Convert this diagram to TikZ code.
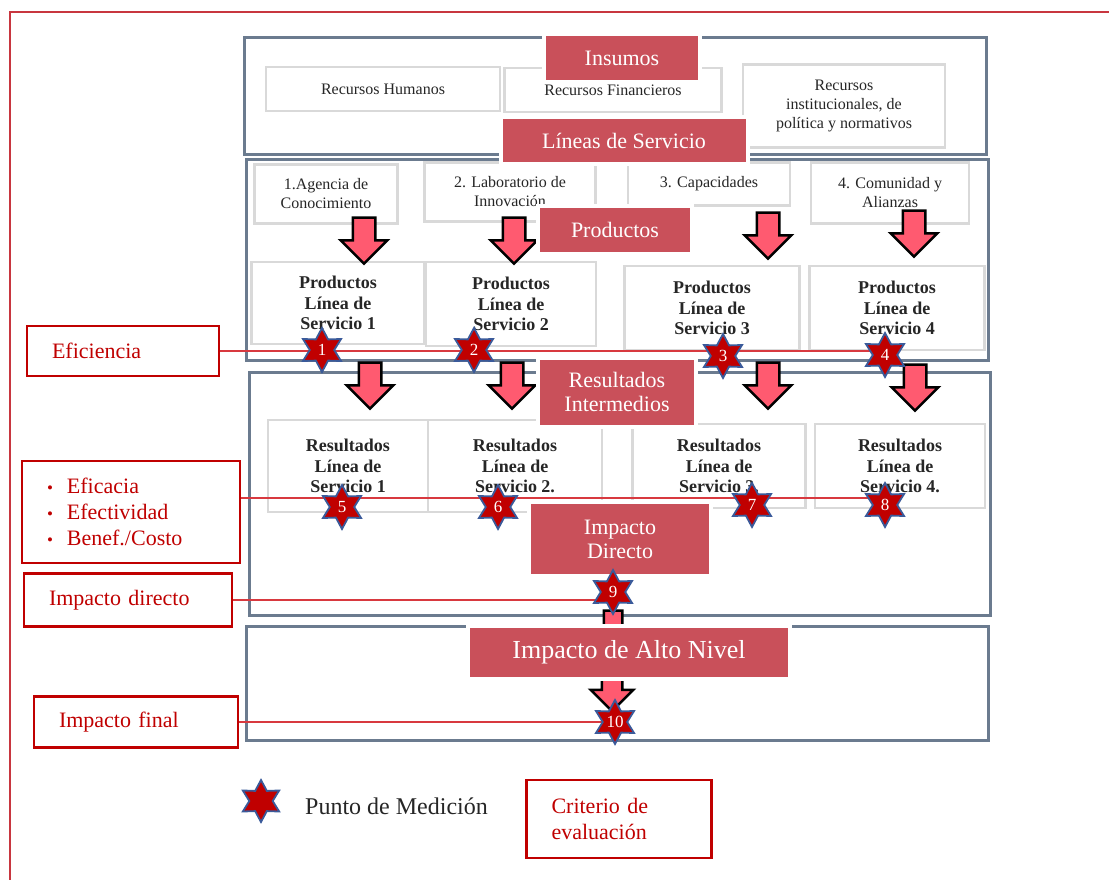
\documentclass[tikz,border=0pt]{standalone}
\usepackage{fontspec}
\setmainfont{Liberation Serif}
\usetikzlibrary{positioning, shapes.geometric, shapes.arrows}
\usepackage{xcolor}

\definecolor{framegray}{HTML}{6B7B8F}
\definecolor{boxgray}{HTML}{D9D9D9}
\definecolor{hdrred}{HTML}{C9505A}
\definecolor{arrowpink}{HTML}{FF5A70}
\definecolor{starred}{HTML}{C00000}
\definecolor{starblue}{HTML}{3A5A9A}
\definecolor{critred}{HTML}{C00000}
\definecolor{linkred}{HTML}{D8393F}
\definecolor{outerred}{HTML}{C8363F}

\newcommand{\fs}[2]{\fontsize{#1}{#2}\selectfont}
\newcommand{\bul}{{\fs{17}{17}\textbullet}\hspace{14pt}}
\newcommand{\shaft}[1]{\rule{0pt}{#1}}

\pgfdeclarelayer{front}
\pgfsetlayers{main,front}

\tikzset{
  frame/.style={draw=framegray, line width=3pt},
  itembox/.style={draw=boxgray, line width=2.5pt, fill=white, align=center,
    inner sep=0pt, text=black!85, font=\fs{16}{19}},
  boldbox/.style={itembox, font=\bfseries\fs{18}{20.5}},
  header/.style={fill=hdrred, draw=white, line width=4pt, text=white,
    align=center, inner sep=0pt, font=\fs{22}{24}},
  blockarrow/.style={single arrow, draw=black, fill=arrowpink, line width=2.5pt,
    rotate=-90, inner sep=0pt, minimum height=46pt, minimum width=0pt,
    single arrow head extend=12pt},
  measure/.style={star, star points=6, star point ratio=1.8, fill=starred,
    draw=starblue, line width=1.8pt, minimum size=44pt, inner sep=0pt,
    text=white, font=\fs{17}{17}},
  crit/.style={draw=critred, line width=2.5pt, fill=white, text=critred,
    align=left, inner xsep=25pt, inner ysep=0pt, font=\fs{22}{26}},
  link/.style={draw=linkred, line width=1.3pt}
}

\begin{document}
\begin{tikzpicture}[x=1pt, y=-1pt]
  \useasboundingbox (0,0) rectangle (1109,880);
  \draw[outerred, line width=2.5pt] (10,880) -- (10,12) -- (1109,12);

  % Layers
  \draw[frame] (244,38) rectangle (986,155);
  \draw[frame] (246,160) rectangle (988,360);
  \draw[frame] (249,372) rectangle (990,615);
  \draw[frame] (246,626) rectangle (988,740);

  % Insumos
  \node[itembox, minimum width=234pt, minimum height=44pt] (rhum) at (383,89) {Recursos Humanos};
  \node[itembox, minimum width=217pt, minimum height=44pt] (rfin) at (613,90) {Recursos Financieros};
  \node[itembox, minimum width=202pt, minimum height=83pt] (rins) at (844,106) {Recursos\\institucionales, de\\política y normativos};

  % Lineas de servicio
  \node[itembox, minimum width=143pt, minimum height=59pt] (lin1) at (326,194) {1.Agencia de\\Conocimiento};
  \node[itembox, minimum width=171pt, minimum height=59pt] (lin2) at (510,192) {2. Laboratorio de\\Innovación};
  \node[itembox, minimum width=162pt, minimum height=43pt] (lin3) at (709,184) {3. Capacidades};
  \node[itembox, minimum width=158pt, minimum height=61pt] (lin4) at (890,193) {4. Comunidad y\\Alianzas};

  % Productos
  \node[boldbox, minimum width=173pt, minimum height=82pt] (prod1) at (338,303) {Productos\\Línea de\\Servicio 1};
  \node[boldbox, minimum width=170pt, minimum height=84pt] (prod2) at (511,304) {Productos\\Línea de\\Servicio 2};
  \node[boldbox, minimum width=175pt, minimum height=84pt] (prod3) at (712,308) {Productos\\Línea de\\Servicio 3};
  \node[boldbox, minimum width=175pt, minimum height=84pt] (prod4) at (897,308) {Productos\\Línea de\\Servicio 4};

  % Resultados
  \node[boldbox, minimum width=160pt, minimum height=92pt] (res1) at (348,466) {Resultados\\Línea de\\Servicio 1};
  \node[boldbox, minimum width=174pt, minimum height=92pt] (res2) at (515,466) {Resultados\\Línea de\\Servicio 2.};
  \node[boldbox, minimum width=173pt, minimum height=84pt] (res3) at (719,466) {Resultados\\Línea de\\Servicio 3.};
  \node[boldbox, minimum width=170pt, minimum height=84pt] (res4) at (900,466) {Resultados\\Línea de\\Servicio 4.};

  % Arrows
  \node[blockarrow] (arr1) at (364,235) {\shaft{20pt}};
  \node[blockarrow] (arr2) at (514,235) {\shaft{20pt}};
  \node[blockarrow] (arr3) at (768,230) {\shaft{20pt}};
  \node[blockarrow] (arr4) at (914,228) {\shaft{20pt}};
  \node[blockarrow] (arr5) at (370,380) {\shaft{20pt}};
  \node[blockarrow] (arr6) at (512,380) {\shaft{20pt}};
  \node[blockarrow] (arr7) at (768,380) {\shaft{20pt}};
  \node[blockarrow] (arr8) at (915,382) {\shaft{20pt}};
  \node[blockarrow, minimum height=56pt, single arrow head extend=10pt] (arr9) at (613,634) {\shaft{16pt}};
  \node[blockarrow, single arrow head extend=11pt] (arr10) at (612,683) {\shaft{18pt}};

  % Headers
  \node[header, minimum width=156pt, minimum height=48pt] (hins) at (622,58) {Insumos};
  \node[header, minimum width=247pt, minimum height=47pt] (hlin) at (624,141) {Líneas de Servicio};
  \node[header, minimum width=154pt, minimum height=48pt] (hprod) at (615,230) {Productos};
  \node[header, minimum width=158pt, minimum height=69pt] (hres) at (617,392) {Resultados\\Intermedios};
  \node[header, minimum width=182pt, minimum height=74pt] (himp) at (620,539) {Impacto\\Directo};
  \node[header, minimum width=322pt, minimum height=53pt, font=\fs{26}{28}] (halto) at (629,652) {Impacto de Alto Nivel};

  % Criteria
  \node[crit, text width=142pt, minimum height=50pt] (efi) at (123,351) {Eficiencia};
  \node[crit, text width=168pt, minimum height=102pt] (efc) at (131,512) {\bul Eficacia\\\bul Efectividad\\\bul Benef./Costo};
  \node[crit, text width=158pt, minimum height=53pt] (imd) at (128,600) {Impacto directo};
  \node[crit, text width=154pt, minimum height=51pt] (imf) at (136,722) {Impacto final};

  % Measurement points
  \begin{pgfonlayer}{front}
    \node[measure] (s1) at (322,350) {1};
    \node[measure] (s2) at (474,350) {2};
    \node[measure] (s3) at (723,356) {3};
    \node[measure] (s4) at (885,355) {4};
    \node[measure] (s5) at (342,507) {5};
    \node[measure] (s6) at (498,507) {6};
    \node[measure] (s7) at (752,505) {7};
    \node[measure] (s8) at (885,505) {8};
    \node[measure] (s9) at (613,592) {9};
    \node[measure] (s10) at (615,722) {10};
    \node[measure, minimum size=42pt] (s0) at (261,801) {};
  \end{pgfonlayer}

  \draw[link] (efi.east) -- (efi.east -| s4);
  \draw[link] ([yshift=14pt]efc.east) -- ([yshift=14pt]efc.east -| s8);
  \draw[link] (imd.east) -- (imd.east -| s9);
  \draw[link] (imf.east) -- (imf.east -| s10);

  % Legend
  \node[anchor=west, inner sep=0pt, font=\fs{24}{26}, text=black!85] (legtxt) at (305,806) {Punto de Medición};
  \node[crit, text width=135pt, minimum height=78pt] (legcrit) at (619,819) {Criterio de\\evaluación};
\end{tikzpicture}
\end{document}
